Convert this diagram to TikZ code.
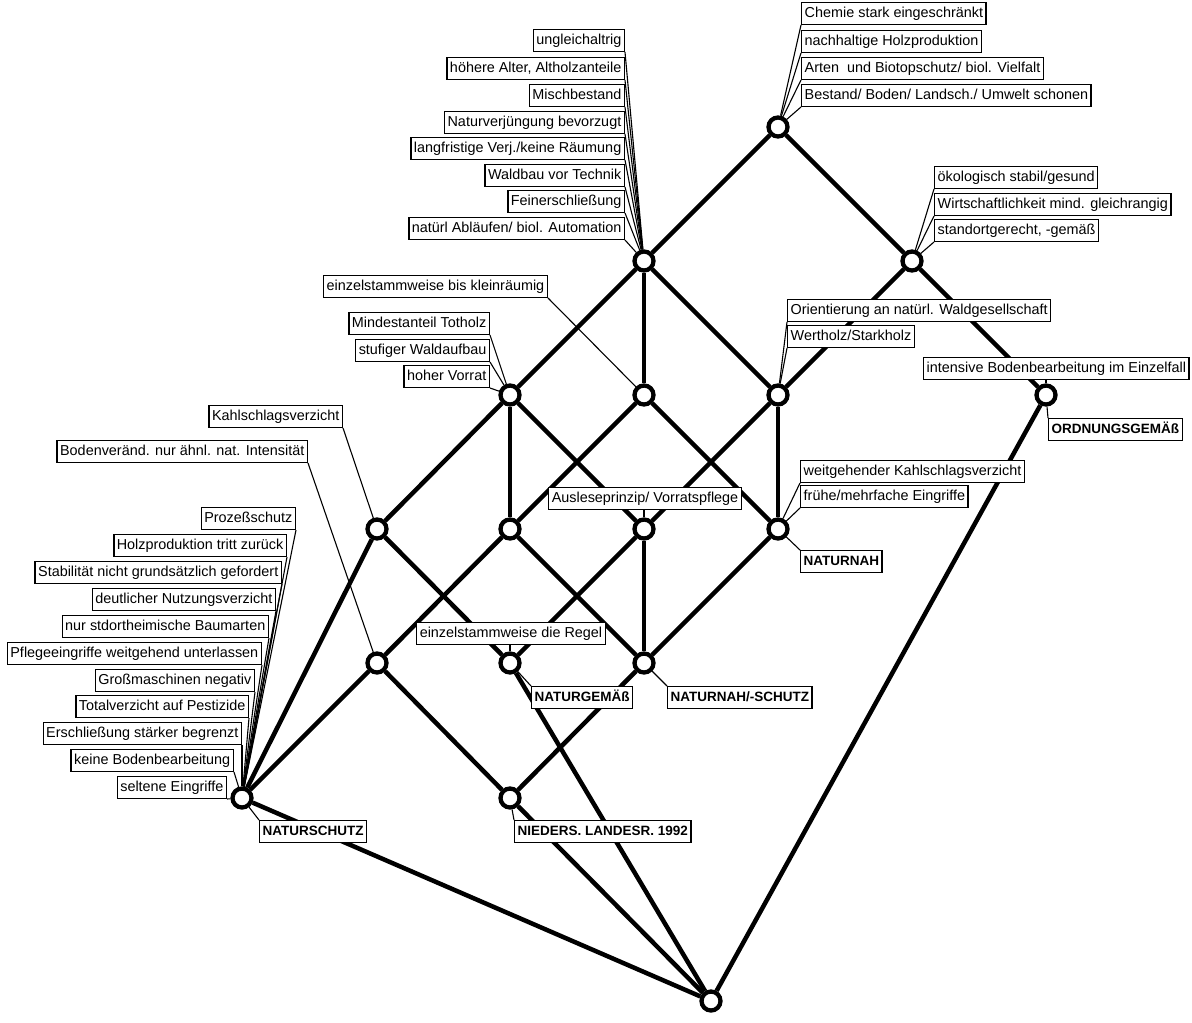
\documentclass[tikz,border=0pt]{standalone}
\usepackage{fontspec}
\setmainfont{Liberation Sans}
\pgfdeclarelayer{paper}
\pgfdeclarelayer{bg}
\pgfsetlayers{paper,bg,main}
\begin{document}
\begin{tikzpicture}[x=1pt,y=-1pt,
  concept/.style={circle, draw, line width=4.3pt, fill=white, minimum size=19pt, inner sep=0pt},
  edge/.style={line width=4.5pt},
  conn/.style={line width=1.1pt},
  attr/.style={draw, fill=white, line width=1.4pt, inner xsep=3pt, inner ysep=0pt,
    minimum height=22pt, text height=10.5pt, text depth=3pt,
    font=\fontsize{14.4}{16}\selectfont},
  obj/.style={attr, font=\fontsize{13.5}{16}\selectfont\bfseries}]
\begin{pgfonlayer}{paper}
  \fill[white] (0,0) rectangle (1192,1023);
\end{pgfonlayer}
\useasboundingbox (0,0) rectangle (1192,1023);

% concepts of the lattice
\node[concept] (T) at (778,127) {};
\node[concept] (A) at (644,261) {};
\node[concept] (B) at (912,261) {};
\node[concept] (C) at (510,395) {};
\node[concept] (D) at (644,395) {};
\node[concept] (E) at (778,395) {};
\node[concept] (O) at (1046,395) {};
\node[concept] (F) at (377,529) {};
\node[concept] (G) at (510,529) {};
\node[concept] (H) at (644,529) {};
\node[concept] (I) at (778,529) {};
\node[concept] (J) at (377,663) {};
\node[concept] (K) at (510,663) {};
\node[concept] (L) at (644,663) {};
\node[concept] (M) at (510,798) {};
\node[concept] (N) at (242,798) {};
\node[concept] (Z) at (711,1001) {};

% attribute labels
\node[attr, anchor=south west] (t1) at (801,25) {Chemie stark eingeschränkt};
\node[attr, anchor=south west] (t2) at (801,53) {nachhaltige Holzproduktion};
\node[attr, anchor=south west] (t3) at (801,80) {Arten~ und Biotopschutz/ biol. Vielfalt};
\node[attr, anchor=south west] (t4) at (801,107) {Bestand/ Boden/ Landsch./ Umwelt schonen};

\node[attr, anchor=south west] (b1) at (934,189) {ökologisch stabil/gesund};
\node[attr, anchor=south west] (b2) at (934,216) {Wirtschaftlichkeit mind. gleichrangig};
\node[attr, anchor=south west] (b3) at (934,242) {standortgerecht, -gemäß};

\node[attr, anchor=south east] (a1) at (625,52) {ungleichaltrig};
\node[attr, anchor=south east] (a2) at (625,80) {höhere Alter, Altholzanteile};
\node[attr, anchor=south east] (a3) at (625,107) {Mischbestand};
\node[attr, anchor=south east] (a4) at (625,134) {Naturverjüngung bevorzugt};
\node[attr, anchor=south east] (a5) at (625,160) {langfristige Verj./keine Räumung};
\node[attr, anchor=south east] (a6) at (625,187) {Waldbau vor Technik};
\node[attr, anchor=south east] (a7) at (625,213) {Feinerschließung};
\node[attr, anchor=south east] (a8) at (625,240) {natürl Abläufen/ biol. Automation};

\node[attr, anchor=south east] (d1) at (548,298) {einzelstammweise bis kleinräumig};

\node[attr, anchor=south east] (c1) at (490,335) {Mindestanteil Totholz};
\node[attr, anchor=south east] (c2) at (490,362) {stufiger Waldaufbau};
\node[attr, anchor=south east] (c3) at (490,388) {hoher Vorrat};

\node[attr, anchor=south west] (e1) at (787,322) {Orientierung an natürl. Waldgesellschaft};
\node[attr, anchor=south west] (e2) at (787,348) {Wertholz/Starkholz};

\node[attr, anchor=south west] (o1) at (923,380) {intensive Bodenbearbeitung im Einzelfall};

\node[attr, anchor=south east] (f1) at (343,428) {Kahlschlagsverzicht};
\node[attr, anchor=south east] (j1) at (308,463) {Bodenveränd. nur ähnl. nat. Intensität};

\node[attr, anchor=south west] (i1) at (800,483) {weitgehender Kahlschlagsverzicht};
\node[attr, anchor=south west] (i2) at (800,508) {frühe/mehrfache Eingriffe};

\node[attr, anchor=south] (h1) at (645,510) {Ausleseprinzip/ Vorratspflege};
\node[attr, anchor=south] (k1) at (511,645) {einzelstammweise die Regel};

\node[attr, anchor=south east] (n1) at (296,530) {Prozeßschutz};
\node[attr, anchor=south east] (n2) at (287,557) {Holzproduktion tritt zurück};
\node[attr, anchor=south east] (n3) at (282,584) {Stabilität nicht grundsätzlich gefordert};
\node[attr, anchor=south east] (n4) at (276,611) {deutlicher Nutzungsverzicht};
\node[attr, anchor=south east] (n5) at (269,638) {nur stdortheimische Baumarten};
\node[attr, anchor=south east] (n6) at (262,665) {Pflegeeingriffe weitgehend unterlassen};
\node[attr, anchor=south east] (n7) at (255,692) {Großmaschinen negativ};
\node[attr, anchor=south east] (n8) at (249,718) {Totalverzicht auf Pestizide};
\node[attr, anchor=south east] (n9) at (242,745) {Erschließung stärker begrenzt};
\node[attr, anchor=south east] (n10) at (234,772) {keine Bodenbearbeitung};
\node[attr, anchor=south east] (n11) at (227,799) {seltene Eingriffe};

% object labels
\node[obj, anchor=north west] (oO) at (1048,418) {ORDNUNGSGEMÄß};
\node[obj, anchor=north west] (oI) at (800,550) {NATURNAH};
\node[obj, anchor=north west] (oK) at (531,686) {NATURGEMÄß};
\node[obj, anchor=north west] (oL) at (667,686) {NATURNAH/-SCHUTZ};
\node[obj, anchor=north west] (oM) at (514,820) {NIEDERS. LANDESR. 1992};
\node[obj, anchor=north west] (oN) at (259,820) {NATURSCHUTZ};

\begin{pgfonlayer}{bg}
  % lattice edges
  \foreach \u/\v in {T/A, T/B, A/C, A/D, A/E, B/E, B/O,
      C/F, C/G, C/H, D/G, D/I, E/H, E/I,
      F/K, F/N, G/J, G/L, H/K, H/L, I/L,
      J/M, J/N, L/M, K/Z, M/Z, N/Z, O/Z}
    \draw[edge] (\u) -- (\v);
  % label connectors
  \foreach \l in {t1,t2,t3,t4} \draw[conn] (\l.south west) -- (T);
  \foreach \l in {b1,b2,b3} \draw[conn] (\l.south west) -- (B);
  \foreach \l in {a1,a2,a3,a4,a5,a6,a7,a8} \draw[conn] (\l.south east) -- (A);
  \draw[conn] (d1.south east) -- (D);
  \foreach \l in {c1,c2,c3} \draw[conn] (\l.south east) -- (C);
  \foreach \l in {e1,e2} \draw[conn] (\l.south west) -- (E);
  \draw[conn] (O |- o1.south) -- (O);
  \draw[conn] (f1.south east) -- (F);
  \draw[conn] (j1.south east) -- (J);
  \foreach \l in {i1,i2} \draw[conn] (\l.south west) -- (I);
  \draw[conn] (H |- h1.south) -- (H);
  \draw[conn] (K |- k1.south) -- (K);
  \foreach \l in {n1,n2,n3,n4,n5,n6,n7,n8,n9,n10,n11} \draw[conn] (\l.south east) -- (N);
  \draw[conn] (O) -- (oO.north west);
  \draw[conn] (I) -- (oI.north west);
  \draw[conn] (K) -- (oK.north west);
  \draw[conn] (L) -- (oL.north west);
  \draw[conn] (M) -- (oM.north west);
  \draw[conn] (N) -- (oN.north west);
\end{pgfonlayer}
\end{tikzpicture}
\end{document}
